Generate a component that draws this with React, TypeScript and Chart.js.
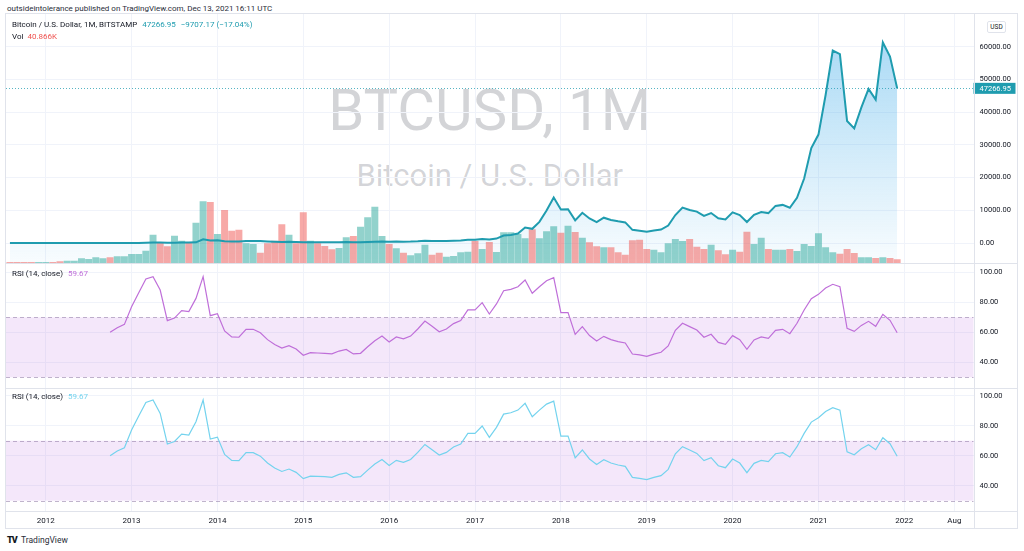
import React, { useEffect, useRef } from "react";
import { Chart, registerables } from "chart.js";
Chart.register(...registerables);

// ---------- data ----------
const FIRST_YEAR = 2011;
const FIRST_MONTH = 8; // Aug 2011 = index 0

// monthly close, Aug 2011 .. Dec 2021
const closes = [
  8.2, 5.14, 3.25, 2.97, 4.72,
  5.5, 4.86, 4.9, 4.95, 5.18, 6.68, 9.35, 10.1, 12.4, 11.2, 12.6, 13.5,
  20.4, 33.4, 93, 139, 129, 97, 106, 135, 133, 198, 1120, 732,
  829, 565, 448, 446, 628, 640, 585, 478, 387, 338, 378, 320,
  218, 254, 244, 236, 230, 263, 284, 230, 236, 314, 377, 430,
  368, 437, 416, 448, 531, 673, 624, 575, 609, 700, 742, 964,
  970, 1190, 1080, 1348, 2303, 2480, 2875, 4735, 4339, 6458, 9907, 13880,
  10265, 10326, 6926, 9240, 7494, 6391, 7729, 7033, 6635, 6300, 4017, 3742,
  3457, 3813, 4103, 5320, 8555, 10817, 10085, 9594, 8284, 9152, 7546, 7194,
  9351, 8543, 6412, 8629, 9454, 9135, 11333, 11645, 10776, 13797, 19695, 28990,
  33140, 45240, 58800, 57750, 37300, 35040, 41460, 47100, 43820, 61300, 56974.12, 47266.95,
];

// monthly volume (thousand BTC)
const volumesK = [
  8, 8, 8, 8, 8,
  8, 8, 16, 25, 25, 53, 45, 65, 53, 65, 78, 78,
  106, 106, 147, 343, 241, 200, 331, 270, 245, 490, 752, 744,
  351, 646, 392, 405, 237, 229, 123, 237, 270, 470, 343, 237,
  617, 270, 237, 204, 163, 180, 311, 327, 441, 556, 687, 327,
  229, 176, 123, 90, 114, 221, 98, 123, 74, 82, 127, 135,
  266, 168, 253, 131, 372, 372, 351, 298, 409, 298, 384, 445,
  368, 454, 376, 307, 249, 200, 188, 188, 127, 98, 274, 282,
  168, 159, 127, 237, 290, 266, 290, 196, 168, 221, 151, 102,
  159, 135, 380, 229, 307, 168, 159, 159, 168, 143, 229, 204,
  360, 188, 127, 110, 168, 119, 65, 65, 57, 65, 57, 40.866,
];

// 1 = up month (close > open), 0 = down month
const volumeUp = [
  0, 0, 0, 0, 1,
  1, 0, 0, 1, 1, 1, 1, 1, 1, 0, 1, 1,
  1, 1, 1, 1, 0, 0, 1, 1, 0, 1, 1, 0,
  1, 0, 0, 0, 1, 1, 0, 0, 0, 0, 1, 0,
  0, 1, 0, 0, 0, 1, 1, 0, 1, 1, 1, 1,
  0, 1, 0, 1, 1, 1, 0, 0, 1, 1, 1, 1,
  0, 1, 0, 1, 1, 1, 1, 1, 0, 1, 1, 1,
  0, 1, 0, 1, 0, 0, 1, 0, 0, 0, 0, 0,
  0, 1, 1, 1, 1, 1, 0, 0, 0, 1, 0, 0,
  1, 0, 0, 1, 1, 0, 1, 1, 0, 1, 1, 1,
  1, 1, 1, 0, 0, 0, 1, 1, 0, 1, 0, 0,
];

// RSI(14, close), Oct 2012 .. Dec 2021
const RSI_FIRST_INDEX = 14;
const rsiValues = [
  60.0, 63.1, 65.3,
  77.1, 86.4, 95.5, 97.1, 88.2, 67.8, 69.5, 74.4, 73.8, 82.6, 97.1, 71.1,
  72.4, 60.9, 56.9, 56.7, 62.0, 62.0, 59.7, 55.1, 51.8, 49.5, 51.1, 48.9,
  44.7, 46.4, 46.2, 46.0, 45.6, 47.5, 48.6, 45.6, 46.0, 50.4, 54.4, 57.5,
  53.5, 56.9, 55.6, 57.5, 62.2, 67.5, 64.0, 60.4, 62.2, 65.8, 67.8, 74.9,
  74.9, 79.8, 72.2, 78.9, 87.7, 88.6, 90.4, 94.9, 86.0, 90.4, 94.4, 96.4,
  73.1, 73.1, 58.6, 63.8, 57.8, 54.2, 57.3, 55.1, 53.8, 52.9, 45.5, 44.9,
  44.0, 45.5, 46.7, 50.9, 61.3, 66.0, 63.8, 61.5, 56.7, 58.7, 53.3, 52.0,
  57.8, 55.1, 48.7, 54.9, 56.9, 56.0, 61.3, 62.0, 59.1, 66.0, 74.9, 82.4,
  85.3, 89.5, 92.0, 90.4, 62.6, 60.6, 64.6, 67.3, 64.0, 72.0, 68.0, 59.67,
];

const priceTicks = [0, 10000, 20000, 30000, 40000, 50000, 60000];
const rsiTicks = [40, 60, 80, 100];
const RSI_UPPER = 70;
const RSI_LOWER = 30;

const timeTickLabels = ["2012", "2013", "2014", "2015", "2016", "2017", "2018", "2019", "2020", "2021", "2022", "Aug"];
const timeTickDates: [number, number][] = [
  [2012, 1], [2013, 1], [2014, 1], [2015, 1], [2016, 1], [2017, 1],
  [2018, 1], [2019, 1], [2020, 1], [2021, 1], [2022, 1], [2022, 8],
];

// ---------- style / layout ----------
const FONT = "Roboto, 'Noto Sans', sans-serif";
const TEXT = "#131722";
const GRID = "#f0f3fa";
const FRAME = "#e0e3eb";
const PRICE_LINE = "#1f9caf";
const UP_VOL = "rgba(38,166,154,0.5)";
const DOWN_VOL = "rgba(239,83,80,0.5)";
const RSI1_COLOR = "#bf6fd9";
const RSI2_COLOR = "#74d3ee";

const FRAME_L = 6;
const FRAME_R = 1017;
const FRAME_T = 13;
const SEP1 = 263;
const SEP2 = 388;
const XAXIS_TOP = 511;
const FRAME_B = 528;
const AXIS_W = 43.5;

const X_MIN = -0.55;
const X_MAX = 134.67;
const PRICE_MIN = -6112;
const PRICE_MAX = 70293;
const VOL_MAX = 3065;
const RSI1_MIN = 22.87, RSI1_MAX = 106.2;
const RSI2_MIN = 23.13, RSI2_MAX = 105.13;

const monthIndex = (y: number, m: number) => (y - FIRST_YEAR) * 12 + (m - FIRST_MONTH);
const timeTickIdx = timeTickDates.map(([y, m]) => monthIndex(y, m));

function xScaleOptions(showLabels: boolean): any {
  return {
    type: "linear",
    min: X_MIN,
    max: X_MAX,
    offset: false,
    grid: { color: GRID, drawTicks: false, offset: false, lineWidth: 1 },
    border: { display: false },
    ticks: {
      display: showLabels,
      autoSkip: false,
      maxRotation: 0,
      padding: 5,
      font: { family: FONT, size: 8 },
      color: TEXT,
      callback: (v: number) => {
        const k = timeTickIdx.indexOf(v);
        return k >= 0 ? timeTickLabels[k] : "";
      },
    },
    afterBuildTicks: (s: any) => {
      s.ticks = timeTickIdx.map((v) => ({ value: v }));
    },
    afterFit: (s: any) => {
      s.height = showLabels ? FRAME_B - XAXIS_TOP : 0;
      s.paddingLeft = 0;
      s.paddingRight = 0;
      s.paddingTop = 0;
      s.paddingBottom = 0;
    },
  };
}

function yScaleOptions(min: number, max: number, ticks: number[]): any {
  return {
    position: "right",
    min,
    max,
    grid: { color: GRID, drawTicks: false },
    border: { display: false },
    ticks: {
      autoSkip: false,
      padding: 6,
      font: { family: FONT, size: 7.5 },
      color: TEXT,
      callback: (v: number) => Number(v).toFixed(2),
    },
    afterBuildTicks: (s: any) => {
      s.ticks = ticks.map((v) => ({ value: v }));
    },
    afterFit: (s: any) => {
      s.width = AXIS_W;
      s.paddingTop = 0;
      s.paddingBottom = 0;
      s.paddingLeft = 0;
      s.paddingRight = 0;
    },
  };
}

const lastPricePlugin = {
  id: "lastPrice",
  afterDraw(chart: any) {
    const last = closes[closes.length - 1];
    const y = chart.scales.y.getPixelForValue(last);
    const { left, right } = chart.chartArea;
    const c = chart.ctx;
    c.save();
    c.strokeStyle = "rgba(31,156,175,0.75)";
    c.lineWidth = 1;
    c.setLineDash([1, 2]);
    c.beginPath();
    c.moveTo(left, Math.round(y) + 0.5);
    c.lineTo(right, Math.round(y) + 0.5);
    c.stroke();
    c.setLineDash([]);
    c.fillStyle = PRICE_LINE;
    c.fillRect(right, y - 5.5, 42, 11);
    c.fillStyle = "#ffffff";
    c.font = `7.5px ${FONT}`;
    c.textBaseline = "middle";
    c.textAlign = "left";
    c.fillText(last.toFixed(2), right + 6, y + 0.5);
    c.restore();
  },
};

const rsiBandPlugin = {
  id: "rsiBand",
  beforeDatasetsDraw(chart: any) {
    const ys = chart.scales.y;
    const { left, right } = chart.chartArea;
    const yt = ys.getPixelForValue(RSI_UPPER);
    const yb = ys.getPixelForValue(RSI_LOWER);
    const c = chart.ctx;
    c.save();
    c.fillStyle = "rgba(186,104,224,0.16)";
    c.fillRect(left, yt, right - left, yb - yt);
    c.strokeStyle = "rgba(150,130,170,0.6)";
    c.lineWidth = 1;
    c.setLineDash([4, 3]);
    for (const yy of [yt, yb]) {
      c.beginPath();
      c.moveTo(left, Math.round(yy) + 0.5);
      c.lineTo(right, Math.round(yy) + 0.5);
      c.stroke();
    }
    c.restore();
  },
};

const baseOptions: any = {
  animation: false,
  responsive: false,
  maintainAspectRatio: false,
  layout: { padding: 0 },
  events: [],
  plugins: { legend: { display: false }, tooltip: { enabled: false } },
};

function MainPane() {
  const ref = useRef<HTMLCanvasElement>(null);
  useEffect(() => {
    const pts = closes.map((c, i) => ({ x: i, y: c }));
    const maxClose = Math.max(...closes);
    const chart = new Chart(ref.current!, {
      type: "bar",
      data: {
        datasets: [
          {
            type: "line",
            data: pts,
            borderWidth: 0,
            pointRadius: 0,
            fill: "start",
            yAxisID: "y",
            order: 3,
            backgroundColor: (ctx: any) => {
              const ch = ctx.chart;
              if (!ch.chartArea) return "rgba(38,160,230,0.2)";
              const top = ch.scales.y.getPixelForValue(maxClose);
              const g = ch.ctx.createLinearGradient(0, top, 0, ch.chartArea.bottom);
              g.addColorStop(0, "rgba(38,160,230,0.38)");
              g.addColorStop(1, "rgba(38,160,230,0.03)");
              return g;
            },
          } as any,
          {
            type: "bar",
            data: volumesK.map((v, i) => ({ x: i, y: v })),
            backgroundColor: volumeUp.map((u) => (u ? UP_VOL : DOWN_VOL)),
            barThickness: 6.3,
            yAxisID: "v",
            order: 2,
          } as any,
          {
            type: "line",
            data: pts,
            borderColor: PRICE_LINE,
            borderWidth: 2,
            pointRadius: 0,
            fill: false,
            tension: 0,
            yAxisID: "y",
            order: 1,
          } as any,
        ],
      },
      options: {
        ...baseOptions,
        scales: {
          x: xScaleOptions(false),
          y: yScaleOptions(PRICE_MIN, PRICE_MAX, priceTicks),
          v: { display: false, min: 0, max: VOL_MAX },
        },
      },
      plugins: [lastPricePlugin],
    });
    return () => chart.destroy();
  }, []);
  return (
    <canvas
      ref={ref}
      width={FRAME_R - FRAME_L}
      height={SEP1 - FRAME_T}
      style={{ position: "absolute", left: FRAME_L, top: FRAME_T, width: FRAME_R - FRAME_L, height: SEP1 - FRAME_T }}
    />
  );
}

function RsiPane(props: { top: number; bottom: number; min: number; max: number; color: string; showTime: boolean }) {
  const ref = useRef<HTMLCanvasElement>(null);
  useEffect(() => {
    const chart = new Chart(ref.current!, {
      type: "line",
      data: {
        datasets: [
          {
            data: rsiValues.map((v, i) => ({ x: i + RSI_FIRST_INDEX, y: v })),
            borderColor: props.color,
            borderWidth: 1.2,
            pointRadius: 0,
            tension: 0,
            fill: false,
          },
        ],
      },
      options: {
        ...baseOptions,
        scales: {
          x: xScaleOptions(props.showTime),
          y: yScaleOptions(props.min, props.max, rsiTicks),
        },
      },
      plugins: [rsiBandPlugin],
    });
    return () => chart.destroy();
  }, []);
  const h = props.bottom - props.top;
  return (
    <canvas
      ref={ref}
      width={FRAME_R - FRAME_L}
      height={h}
      style={{ position: "absolute", left: FRAME_L, top: props.top, width: FRAME_R - FRAME_L, height: h }}
    />
  );
}

const txt = (left: number, cy: number, size: number, extra: any = {}): any => ({
  position: "absolute",
  left,
  top: cy,
  transform: "translateY(-50%)",
  fontFamily: FONT,
  fontSize: size,
  lineHeight: 1,
  whiteSpace: "nowrap",
  color: TEXT,
  ...extra,
});

const hline = (y: number, l = FRAME_L, r = FRAME_R): any => ({
  position: "absolute", left: l, top: y, width: r - l, height: 1, background: FRAME,
});

export default function App() {
  const plotCenter = (FRAME_L + FRAME_R - AXIS_W) / 2;
  const last = closes[closes.length - 1];
  const prev = closes[closes.length - 2];
  const chg = last - prev;
  const pct = (chg / prev) * 100;
  return (
    <div style={{ position: "fixed", left: 0, top: 0, width: 1024, height: 551, background: "#ffffff", overflow: "hidden" }}>
      <div style={txt(7, 8.5, 8, { color: "#2a2e39" })}>
        outsideintolerance published on TradingView.com, Dec 13, 2021 16:11 UTC
      </div>

      {/* watermark */}
      <div style={{ position: "absolute", left: plotCenter - 300, width: 600, top: 110, transform: "translateY(-50%)", textAlign: "center", fontFamily: FONT, fontSize: 58, lineHeight: 1, color: "rgba(120,123,134,0.33)" }}>
        BTCUSD, 1M
      </div>
      <div style={{ position: "absolute", left: plotCenter - 300, width: 600, top: 175, transform: "translateY(-50%)", textAlign: "center", fontFamily: FONT, fontSize: 31, lineHeight: 1, color: "rgba(120,123,134,0.33)" }}>
        Bitcoin / U.S. Dollar
      </div>

      <MainPane />
      <RsiPane top={SEP1} bottom={SEP2} min={RSI1_MIN} max={RSI1_MAX} color={RSI1_COLOR} showTime={false} />
      <RsiPane top={SEP2} bottom={FRAME_B} min={RSI2_MIN} max={RSI2_MAX} color={RSI2_COLOR} showTime={true} />

      {/* frame lines */}
      <div style={hline(FRAME_T)} />
      <div style={hline(SEP1)} />
      <div style={hline(SEP2)} />
      <div style={hline(XAXIS_TOP)} />
      <div style={hline(FRAME_B)} />
      <div style={{ position: "absolute", left: FRAME_L - 1, top: FRAME_T, width: 1, height: FRAME_B - FRAME_T + 1, background: FRAME }} />
      <div style={{ position: "absolute", left: FRAME_R, top: FRAME_T, width: 1, height: FRAME_B - FRAME_T + 1, background: FRAME }} />
      <div style={{ position: "absolute", left: FRAME_R - AXIS_W, top: FRAME_T, width: 1, height: FRAME_B - FRAME_T + 1, background: FRAME }} />

      {/* legends */}
      <div style={txt(12, 25, 8)}>
        Bitcoin / U.S. Dollar, 1M, BITSTAMP
        <span style={{ color: PRICE_LINE, marginLeft: 5 }}>{last.toFixed(2)}</span>
        <span style={{ color: PRICE_LINE, marginLeft: 5 }}>
          {"\u2212" + Math.abs(chg).toFixed(2) + " (\u2212" + Math.abs(pct).toFixed(2) + "%)"}
        </span>
      </div>
      <div style={txt(12, 37, 8)}>
        Vol <span style={{ color: "#ef5350", marginLeft: 2 }}>{(volumesK[volumesK.length - 1]).toFixed(3)}K</span>
      </div>
      <div style={txt(12, 274, 8)}>
        RSI (14, close) <span style={{ color: RSI1_COLOR, marginLeft: 3 }}>{rsiValues[rsiValues.length - 1].toFixed(2)}</span>
      </div>
      <div style={txt(12, 397, 8)}>
        RSI (14, close) <span style={{ color: RSI2_COLOR, marginLeft: 3 }}>{rsiValues[rsiValues.length - 1].toFixed(2)}</span>
      </div>

      {/* USD badge */}
      <div style={{ position: "absolute", left: 987, top: 21, width: 17, height: 10, border: `1px solid ${FRAME}`, borderRadius: 2, fontFamily: FONT, fontSize: 6.5, lineHeight: "10px", textAlign: "center", color: TEXT, background: "#fff" }}>
        USD
      </div>

      {/* footer logo */}
      <div style={txt(7, 540, 9, { fontWeight: 900, letterSpacing: -1 })}>TV</div>
      <div style={txt(21, 540, 8.5, { color: "#2a2e39" })}>TradingView</div>
    </div>
  );
}
